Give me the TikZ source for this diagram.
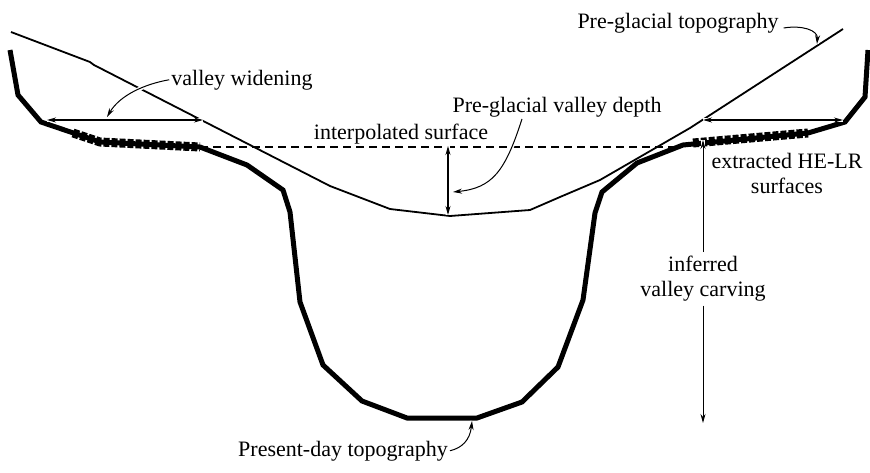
\documentclass[tikz,border=0pt]{standalone}
\usepackage{fontspec}
\setmainfont{Liberation Serif}
\usetikzlibrary{positioning,arrows.meta}

\begin{document}
\begin{tikzpicture}[x=1pt, y=-1pt,
  every node/.style={font=\fontsize{22}{25}\selectfont, inner sep=2pt},
  preglacial/.style={line width=1.8pt, line join=miter},
  presentday/.style={line width=5pt, line join=miter},
  helr/.style={line width=9pt, dash pattern=on 6pt off 2pt},
  interp/.style={line width=2.3pt, dash pattern=on 8pt off 5pt},
  halo/.style={preaction={draw=white, line width=4pt, -}},
  twoway/.style={line width=1.1pt, {Stealth[length=9pt,width=5pt]}-{Stealth[length=9pt,width=5pt]}, halo},
  pointer/.style={line width=1pt, -{Stealth[length=9pt,width=5pt]}, halo}]
  \useasboundingbox (0,0) rectangle (870,472);

  % profiles
  \draw[preglacial] (11,32) -- (90,62) -- (94,65) -- (330,186) -- (390,209) -- (450,216)
    -- (530,210) -- (560,197) -- (600,180) -- (690,128) -- (843,29);
  \draw[presentday] (10,50) -- (18,95) -- (41,122) -- (100,142) -- (200,147) -- (247,165)
    -- (283,190) -- (290,212) -- (300,302) -- (323,365) -- (362,401) -- (407,418) -- (477,418)
    -- (522,402) -- (558,367) -- (583,300) -- (595,213) -- (602,192) -- (637,163) -- (683,145)
    -- (808,133) -- (845,122) -- (865,97) -- (868,50);
  \draw[helr] (73,133) -- (100,142) -- (200,147);
  \draw[helr] (693,143) -- (808,133);
  \draw[interp] (200,147) -- (683,147);

  % labels
  \node[anchor=base] (topo) at (678,28) {Pre-glacial topography};
  \node[anchor=base] (widen) at (242,85) {valley widening};
  \node[anchor=base] (depth) at (557,112) {Pre-glacial valley depth};
  \node[anchor=base] (surf) at (401,139) {interpolated surface};
  \node[anchor=north, align=center] (helrs) at (787,151) {extracted HE-LR\\surfaces};
  \node[anchor=north, align=center, inner sep=4pt] (carve) at (703,252) {inferred\\valley carving};
  \node[anchor=base] (today) at (343,456) {Present-day topography};

  \coordinate (wl1) at (47,120);
  \coordinate (wl2) at (203,120);
  \coordinate (wr1) at (703,120);
  \coordinate (wr2) at (843,120);
  \coordinate (dtop) at (448,146);
  \coordinate (dbot) at (448,215);
  \coordinate (ctop) at (703,140);
  \coordinate (cbot) at (703,423);
  \coordinate (topotip) at (817,44);
  \coordinate (widentip) at (107,117);
  \coordinate (depthtip) at (453,192);
  \coordinate (todaytip) at (472,421);

  % arrows
  \draw[twoway] (wl1) -- (wl2);
  \draw[twoway] (wr1) -- (wr2);
  \draw[twoway] (dtop) -- (dbot);
  \draw[pointer] (carve.north) -- (ctop);
  \draw[pointer] (carve.south) -- (cbot);

  % leaders
  \draw[pointer] ([xshift=3pt]topo.base east) .. controls +(18,-3) and (818,30) .. (topotip);
  \draw[pointer] (widen.west) .. controls (145,84) and (120,95) .. (widentip);
  \draw[pointer] ([xshift=-35pt]depth.south) .. controls (505,172) and (492,188) .. (depthtip);
  \draw[pointer] (today.east) .. controls (462,448) and (470,440) .. (todaytip);
\end{tikzpicture}
\end{document}
